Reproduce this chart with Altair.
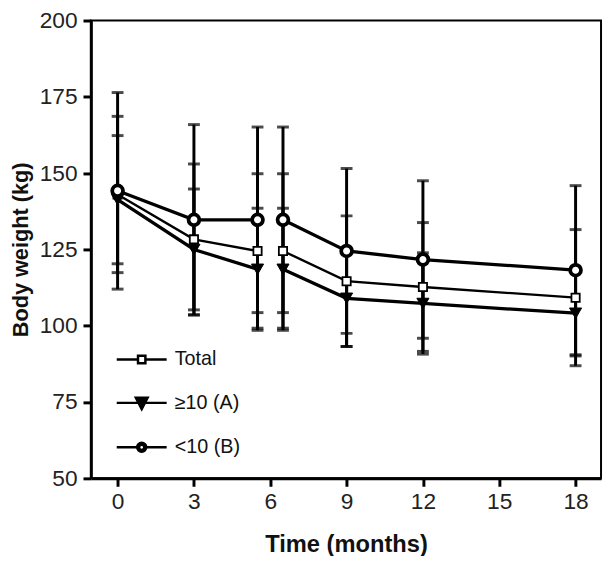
import altair as alt
import pandas as pd

# ---- data ----
months = [0, 3, 5.5, 6.5, 9, 12, 18]
segment = ["a", "a", "a", "b", "b", "b", "b"]
series_names = ["Total", "≥10 (A)", "<10 (B)"]

total_mean = [143.0, 128.3, 124.5, 124.5, 114.6, 112.7, 109.2]
total_sd = [25.6, 24.7, 25.3, 25.3, 21.4, 21.1, 22.3]
a_mean = [141.3, 125.0, 118.5, 118.5, 109.0, 107.3, 104.1]
a_sd = [21.0, 19.8, 20.0, 20.0, 15.8, 16.6, 14.0]
b_mean = [144.2, 134.7, 134.7, 134.7, 124.5, 121.7, 118.2]
b_sd = [32.2, 31.2, 30.4, 30.4, 27.0, 25.8, 27.7]

y_ticks = [50, 75, 100, 125, 150, 175, 200]
x_ticks = [0, 3, 6, 9, 12, 15, 18]

rows = []
for name, means, sds in zip(series_names, [total_mean, a_mean, b_mean], [total_sd, a_sd, b_sd]):
    for m, seg, mu, sd in zip(months, segment, means, sds):
        rows.append(dict(series=name, month=m, seg=seg, mean=mu, lo=mu - sd, hi=mu + sd))
df = pd.DataFrame(rows)

FONT = "Liberation Sans"
ytitle = "Body weight (kg)"

x_enc = alt.X(
    "month:Q",
    scale=alt.Scale(domain=[-1.05, 19.0], nice=False, zero=False),
    axis=alt.Axis(values=x_ticks, title="Time (months)", labelPadding=5, titlePadding=19,
                  titleFontSize=24),
)
y_scale = alt.Scale(domain=[50, 200], nice=False, zero=False)
y_axis = alt.Axis(values=y_ticks, title=ytitle, labelPadding=6, titlePadding=7, titleFontSize=22)

base = alt.Chart(df)

def y_of(field, axis=False):
    if axis:
        return alt.Y(field, scale=y_scale, axis=y_axis, title=ytitle)
    return alt.Y(field, scale=y_scale, title=ytitle)

# per-series styling (marks only)
line_width = {"Total": 2.4, "≥10 (A)": 3.3, "<10 (B)": 3.3}
marker = {
    "Total": dict(shape="square", fill="white", size=70, strokeWidth=1.8),
    "≥10 (A)": dict(shape="triangle-down", fill="black", size=150, strokeWidth=1),
    "<10 (B)": dict(shape="circle", fill="white", size=120, strokeWidth=3.8),
}

layers = []

# legend layer (invisible marks; provides the legend only)
p_total = "M-1.15,0H-0.17M0.17,0H1.15M-0.17,-0.17H0.17V0.17H-0.17Z"
p_a = "M-1.15,0H1.15M-0.27,-0.24H0.27L0,0.28Z"
p_b = ("M-1.15,0H-0.22M0.22,0H1.15"
       "M-0.21,0A0.21,0.21 0 1 0 0.21,0A0.21,0.21 0 1 0 -0.21,0Z"
       "M-0.12,0A0.12,0.12 0 1 0 0.12,0A0.12,0.12 0 1 0 -0.12,0Z")
leg = alt.Legend(
    title=None, orient="none", legendX=28, legendY=320, padding=0,
    symbolSize=1936, symbolOpacity=1, symbolStrokeWidth=2.5,
    labelFont=FONT, labelFontSize=20, labelColor="#111", labelOffset=10, rowPadding=10,
)
legend_layer = base.mark_point(filled=True, opacity=0, size=1936).encode(
    x=x_enc,
    y=y_of("mean:Q", axis=True),
    shape=alt.Shape("series:N", scale=alt.Scale(domain=series_names, range=[p_total, p_a, p_b]), legend=leg),
    fill=alt.Fill("series:N", scale=alt.Scale(domain=series_names, range=["white", "black", "white"]), legend=leg),
    stroke=alt.Stroke("series:N", scale=alt.Scale(domain=series_names, range=["black", "black", "black"]), legend=leg),
)
layers.append(legend_layer)

for name in series_names:
    sub = base.transform_filter(alt.datum.series == name)
    layers.append(
        sub.mark_line(color="black", strokeWidth=line_width[name]).encode(
            x=x_enc, y=y_of("mean:Q"), detail="seg:N", order="month:Q"
        )
    )

layers.append(base.mark_rule(color="black", strokeWidth=3).encode(x=x_enc, y=y_of("lo:Q"), y2="hi:Q"))
layers.append(base.mark_tick(color="black", orient="horizontal", size=12, thickness=3).encode(x=x_enc, y=y_of("lo:Q")))
layers.append(base.mark_tick(color="black", orient="horizontal", size=12, thickness=3).encode(x=x_enc, y=y_of("hi:Q")))

for name in series_names:
    sub = base.transform_filter(alt.datum.series == name)
    layers.append(
        sub.mark_point(filled=True, stroke="black", opacity=1, **marker[name]).encode(
            x=x_enc, y=y_of("mean:Q")
        )
    )

chart = (
    alt.layer(*layers)
    .properties(
        width=517,
        height=464,
        autosize=alt.AutoSizeParams(type="none"),
        padding={"left": 84, "top": 9, "right": 2, "bottom": 75},
    )
    .configure_view(stroke="black", strokeWidth=2)
    .configure_axis(
        grid=False,
        domainColor="black",
        domainWidth=3,
        tickColor="black",
        tickWidth=3,
        tickSize=8,
        labelFont=FONT,
        labelFontSize=23,
        labelColor="#222",
        titleFont=FONT,
        titleFontWeight="bold",
        titleColor="#111",
    )
)

chart.save("out.html", embed_options={"renderer": "svg", "actions": False})
